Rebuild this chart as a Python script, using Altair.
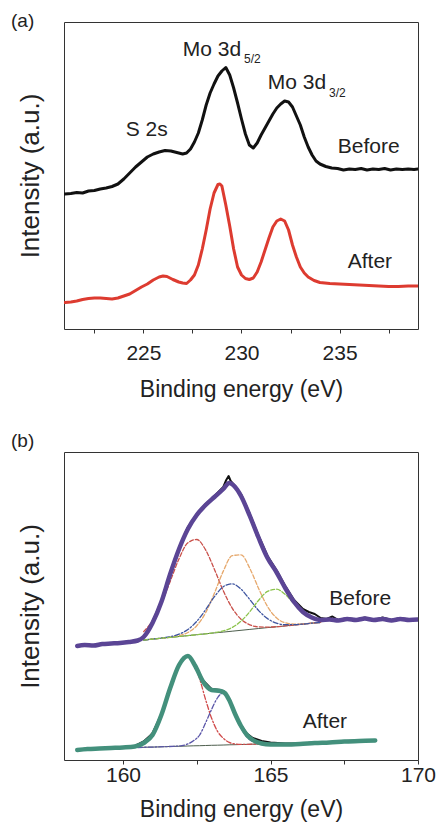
import altair as alt
import pandas as pd

FONT = "Liberation Sans"
TXT = "#222222"

# ---------------- Panel (a): Mo 3d / S 2s ----------------
A_BEFORE_X = [221.0, 221.3, 221.6, 221.9, 222.2, 222.5, 222.8, 223.1, 223.4, 223.7,
              224.0, 224.3, 224.6, 224.9, 225.2, 225.5, 225.8, 226.1, 226.4, 226.7,
              227.0, 227.2, 227.4, 227.6, 227.8, 228.0, 228.2, 228.4, 228.6, 228.8,
              229.0, 229.2, 229.4, 229.6, 229.8, 230.0, 230.2, 230.4, 230.6, 230.8,
              231.0, 231.2, 231.4, 231.6, 231.8, 232.0, 232.2, 232.4, 232.6, 232.8,
              233.0, 233.2, 233.4, 233.6, 233.8, 234.0, 234.3, 234.6, 234.9, 235.2,
              235.5, 235.8, 236.1, 236.4, 236.7, 237.0, 237.3, 237.6, 237.9, 238.2,
              238.5, 238.8, 239.0]
A_BEFORE_Y = [135, 135.5, 136.5, 136, 138, 138.5, 140, 141, 142.5, 145,
              150, 156, 162, 167, 172, 175, 177, 178.5, 178, 176.5,
              175, 176, 180, 187, 196, 209, 224, 236, 245, 253,
              258, 261.5, 254, 241, 226, 210, 195, 184, 181, 186,
              194, 201, 208, 215, 221, 225, 228, 227, 222, 213,
              204, 192, 182, 174, 168, 165, 162.5, 161, 160.5, 159,
              160, 159.5, 160.5, 159, 160, 159.5, 160.5, 159, 160, 159.5,
              160, 159.5, 160]

A_AFTER_X = [221.0, 221.3, 221.6, 221.9, 222.2, 222.5, 222.8, 223.1, 223.4, 223.7,
             224.0, 224.3, 224.6, 224.9, 225.2, 225.5, 225.8, 226.0, 226.2, 226.5,
             226.8, 227.0, 227.2, 227.4, 227.6, 227.8, 228.0, 228.2, 228.4, 228.6,
             228.8, 228.9, 229.0, 229.2, 229.4, 229.6, 229.8, 230.0, 230.2, 230.4,
             230.6, 230.8, 231.0, 231.2, 231.4, 231.6, 231.8, 232.0, 232.2, 232.4,
             232.6, 232.8, 233.0, 233.2, 233.4, 233.7, 234.0, 234.5, 235.0, 235.5,
             236.0, 236.5, 237.0, 237.5, 238.0, 238.5, 239.0]
A_AFTER_Y = [26.5, 27, 28, 29.5, 30.5, 31, 31, 30.5, 30, 31,
             33, 35, 38.5, 42, 45, 49, 52, 53, 52.5, 49.5,
             47, 46, 45.5, 49, 54, 64, 80, 99, 120, 136,
             144.5, 145, 143, 124, 103, 80, 62, 54, 50.5, 49.5,
             51, 57, 67, 79, 91, 102, 108, 110, 108, 99,
             84, 72, 62, 56, 52, 48.5, 46.5, 45.5, 45, 44.5,
             44, 43.5, 43, 42.5, 42.5, 43, 43]

# ---------------- Panel (b): S 2p ----------------
B_BEFORE_FIT_X = [158.45, 158.7, 159.0, 159.3, 159.6, 159.9, 160.2, 160.5, 160.7, 161.0,
                  161.3, 161.6, 161.9, 162.2, 162.5, 162.8, 163.1, 163.4, 163.6, 163.8,
                  164.0, 164.3, 164.6, 164.9, 165.2, 165.5, 165.8, 166.1, 166.4, 166.7,
                  167.0, 167.3, 167.6, 167.9, 168.2, 168.5, 168.8, 169.1, 169.4, 169.7, 170.0]
B_BEFORE_FIT_Y = [114, 115, 114.5, 116, 116.5, 117, 118, 119.5, 123, 137,
                  158, 186, 211, 231, 245, 255, 263, 271, 277, 273,
                  264, 244, 222, 202, 188, 172, 158, 148, 142.5, 140,
                  140.5, 139.5, 141, 140, 141.5, 140, 141, 139.5, 141, 140, 140.5]

B_BEFORE_RAW_X = [158.45, 158.7, 159.0, 159.3, 159.6, 159.9, 160.2, 160.5, 160.7, 161.0,
                  161.3, 161.6, 161.9, 162.2, 162.5, 162.8, 163.1, 163.4, 163.5, 163.58,
                  163.65, 163.8, 164.0, 164.3, 164.6, 164.9, 165.2, 165.5, 165.8, 166.1,
                  166.3, 166.5, 166.7, 166.9, 167.1, 167.3, 167.6, 167.9, 168.2, 168.5,
                  168.8, 169.1, 169.4, 169.7, 170.0]
B_BEFORE_RAW_Y = [114.5, 115.5, 114, 116.5, 116, 117.5, 118.5, 119, 123, 138,
                  159, 188, 212, 233, 246, 256, 264, 273, 280, 284,
                  279, 274, 266, 246, 224, 204, 190, 174, 160, 151,
                  148, 146, 142, 141, 143.5, 140, 142, 140.5, 142.5, 140,
                  142.5, 140, 142, 140.5, 141]

B_COMP_X = [160.7, 161.0, 161.3, 161.6, 161.9, 162.2, 162.5, 162.8, 163.1, 163.4,
            163.7, 164.0, 164.3, 164.6, 164.9, 165.2, 165.5, 165.8, 166.1, 166.4, 166.7]
B_BASE_Y = [120.0, 120.9, 121.8, 122.6, 123.5, 124.4, 125.3, 126.2, 127.1, 127.9,
            128.8, 129.7, 130.6, 131.5, 132.4, 133.2, 134.1, 135.0, 135.9, 136.8, 137.6]
B_RED_Y = [128.4, 139.3, 156.4, 178.6, 201.3, 217.2, 220.5, 210.1, 190.6, 169.2,
           151.9, 140.8, 135.2, 133.1, 132.9, 133.3, 134.1, 135.0, 135.9, 136.8, 137.6]
B_ORANGE_Y = [120.0, 120.9, 121.8, 122.8, 124.4, 127.5, 134.3, 147.2, 166.9, 188.9,
              204.3, 205.2, 191.6, 171.3, 153.4, 142.2, 137.2, 135.9, 136.1, 136.8, 137.6]
B_BLUE_Y = [120.0, 120.9, 122.0, 123.3, 125.8, 130.5, 138.6, 150.2, 163.3, 173.3,
            176.2, 170.9, 160.4, 149.4, 141.4, 136.9, 135.4, 135.4, 135.9, 136.8, 137.6]
B_GREEN_Y = [120.0, 120.9, 121.8, 122.6, 123.5, 124.4, 125.3, 126.2, 127.4, 129.1,
             132.5, 138.8, 148.4, 159.8, 168.6, 170.8, 165.5, 156.3, 147.5, 141.9, 139.4]

B_AFTER_FIT_X = [158.45, 158.8, 159.2, 159.6, 160.0, 160.4, 160.7, 161.0, 161.3, 161.6,
                 161.9, 162.2, 162.45, 162.7, 163.0, 163.3, 163.45, 163.6, 163.8, 164.0,
                 164.2, 164.4, 164.7, 165.0, 165.5, 166.0, 166.5, 167.0, 167.5, 168.0, 168.55]
B_AFTER_FIT_Y = [10, 11, 11.5, 12, 12.5, 13.5, 17, 25, 45, 72,
                 95, 104, 94, 79, 70, 69, 67, 60, 46, 34,
                 25, 20, 16.5, 15.5, 15.5, 16, 17, 17.5, 18.5, 19, 19.5]
B_AFTER_RAW_Y = [10.5, 11.5, 11, 12.5, 12, 14, 18.5, 26.5, 46, 73,
                 96, 105, 95, 80, 71, 70, 68, 61, 47, 35,
                 26.5, 22, 19, 17.5, 16.5, 16.5, 17.5, 17, 19, 19.5, 20]

B_AFTER_COMP_X = [160.5, 160.8, 161.1, 161.4, 161.7, 162.0, 162.2, 162.4, 162.6, 162.8,
                  163.0, 163.2, 163.42, 163.6, 163.8, 164.0, 164.2, 164.4, 164.6, 164.8, 165.0]
B_AFTER_BASE_Y = [12.5, 12.8, 13.0, 13.3, 13.6, 13.8, 14.0, 14.2, 14.3, 14.5,
                  14.7, 14.8, 15.0, 15.2, 15.3, 15.5, 15.6, 15.8, 16.0, 16.1, 16.3]
B_AFTER_RED_Y = [14.9, 20.5, 32.7, 53.5, 79.0, 98.9, 103.5, 97.3, 80.9, 60.4,
                 42.1, 28.9, 21.2, 17.6, 16.1, 15.7, 15.7, 15.8, 16.0, 16.1, 16.3]
B_AFTER_BLUE_Y = [12.5, 12.8, 13.0, 13.3, 13.7, 14.3, 16.1, 19.5, 25.0, 37.2,
                  50.4, 62.0, 67.5, 60.0, 44.0, 32.0, 23.0, 18.5, 16.8, 16.3, 16.3]


def mk_line(xs, ys, color, width, xenc, yenc, dash=None, interp="linear", opacity=1.0):
    df = pd.DataFrame({"x": xs, "y": ys})
    kw = dict(color=color, strokeWidth=width, interpolate=interp, clip=True,
              opacity=opacity, strokeCap="round", strokeJoin="round")
    if dash:
        kw["strokeDash"] = dash
    return alt.Chart(df).mark_line(**kw).encode(x=xenc, y=yenc)


def mk_text(label, x, y, size=21, align="left", baseline="alphabetic"):
    return alt.Chart(pd.DataFrame({"t": [label]})).mark_text(
        align=align, baseline=baseline, font=FONT, fontSize=size, color=TXT
    ).encode(x=alt.value(x), y=alt.value(y), text="t:N")


def x_axis(values, label_pad, title_pad):
    return alt.Axis(
        values=values,
        labelExpr="datum.value % 5 === 0 ? format(datum.value, 'd') : ''",
        title="Binding energy (eV)", grid=False, domain=False,
        ticks=True, tickSize=4, tickColor="#333333", tickWidth=1,
        labelFont=FONT, labelFontSize=21, labelColor=TXT, labelPadding=label_pad,
        labelFlush=False, labelOverlap=False,
        titleFont=FONT, titleFontSize=23, titleFontWeight="normal",
        titleColor=TXT, titlePadding=title_pad)


y_axis = alt.Axis(title="Intensity (a.u.)", labels=False, ticks=False,
                  domain=False, grid=False, minExtent=0, titlePadding=21,
                  titleFont=FONT, titleFontSize=26, titleFontWeight="normal",
                  titleColor=TXT)

# ---- panel (a)
xa = alt.X("x:Q", scale=alt.Scale(domain=[220.95, 239.0], nice=False, zero=False),
           axis=x_axis([222.5, 225, 227.5, 230, 232.5, 235, 237.5], 9, 15))
ya = alt.Y("y:Q", scale=alt.Scale(domain=[0, 307], nice=False, zero=False), axis=y_axis)

panel_a = alt.layer(
    mk_line(A_BEFORE_X, A_BEFORE_Y, "#111111", 3, xa, ya),
    mk_line(A_AFTER_X, A_AFTER_Y, "#dd3b30", 3, xa, ya),
    mk_text("(a)", -53, -10, size=19, baseline="top"),
    mk_text("S 2s", 61.7, 114),
    mk_text("Mo 3d", 118.7, 34),
    mk_text("5/2", 180, 41, size=12),
    mk_text("Mo 3d", 203.7, 67),
    mk_text("3/2", 265, 75, size=12),
    mk_text("Before", 273.7, 130.7),
    mk_text("After", 283.7, 245.7),
).properties(width=354, height=307)

# ---- panel (b)
xb = alt.X("x:Q", scale=alt.Scale(domain=[158.0, 170.0], nice=False, zero=False),
           axis=x_axis([160, 162.5, 165, 167.5, 170], 0, 13))
yb = alt.Y("y:Q", scale=alt.Scale(domain=[0, 308], nice=False, zero=False), axis=y_axis)

DASH = [4, 2]
DASHDOT = [5, 2, 1.5, 2]
panel_b = alt.layer(
    mk_line(B_COMP_X, B_BASE_Y, "#4d5e4d", 1, xb, yb),
    mk_line(B_COMP_X, B_RED_Y, "#c9504a", 1.3, xb, yb, dash=DASH, interp="monotone"),
    mk_line(B_COMP_X, B_ORANGE_Y, "#e6a86c", 1.3, xb, yb, dash=DASH, interp="monotone"),
    mk_line(B_COMP_X, B_BLUE_Y, "#3e55a0", 1.3, xb, yb, dash=DASHDOT, interp="monotone"),
    mk_line(B_COMP_X, B_GREEN_Y, "#8cc34c", 1.3, xb, yb, dash=DASH, interp="monotone"),
    mk_line(B_BEFORE_RAW_X, B_BEFORE_RAW_Y, "#111111", 2, xb, yb),
    mk_line(B_BEFORE_FIT_X, B_BEFORE_FIT_Y, "#5b4595", 4.5, xb, yb, interp="monotone"),
    mk_line(B_AFTER_COMP_X, B_AFTER_BASE_Y, "#4d5e4d", 1, xb, yb),
    mk_line(B_AFTER_COMP_X, B_AFTER_RED_Y, "#d04a4a", 1.3, xb, yb, dash=DASHDOT, interp="monotone"),
    mk_line(B_AFTER_COMP_X, B_AFTER_BLUE_Y, "#5a55a8", 1.3, xb, yb, dash=DASHDOT, interp="monotone"),
    mk_line(B_AFTER_FIT_X, B_AFTER_RAW_Y, "#111111", 2, xb, yb),
    mk_line(B_AFTER_FIT_X, B_AFTER_FIT_Y, "#43907c", 4.5, xb, yb, interp="monotone"),
    mk_text("(b)", -53, -20, size=19, baseline="top"),
    mk_text("Before", 265.3, 153),
    mk_text("After", 238.7, 276.3),
).properties(width=354, height=308)

chart = alt.vconcat(panel_a, panel_b, spacing=29).properties(
    padding={"left": 10, "top": 11, "right": 0, "bottom": 0},
    background="white",
).configure_view(stroke="#333333", strokeWidth=1)

chart.save("out.html", embed_options={"renderer": "svg", "actions": False})
